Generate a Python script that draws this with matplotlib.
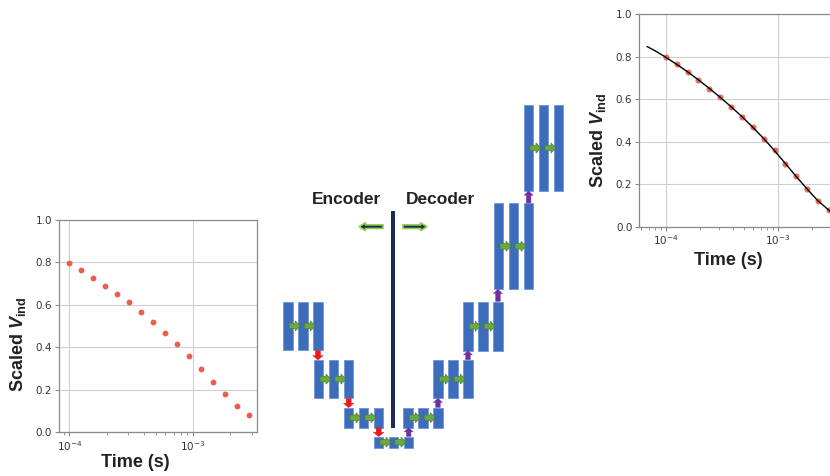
import matplotlib
matplotlib.use("Agg")
import matplotlib.pyplot as plt
from matplotlib.patches import Rectangle, Polygon
from matplotlib.ticker import LogLocator, NullFormatter

# ---- measured induced voltage (scaled) vs. time ----
times = [1.0e-4, 1.25e-4, 1.56e-4, 1.95e-4, 2.44e-4, 3.05e-4, 3.81e-4, 4.77e-4,
         5.96e-4, 7.45e-4, 9.31e-4, 1.16e-3, 1.45e-3, 1.82e-3, 2.27e-3, 2.84e-3]
vind = [0.798, 0.764, 0.728, 0.690, 0.650, 0.611, 0.565, 0.518,
        0.468, 0.414, 0.359, 0.296, 0.238, 0.178, 0.121, 0.079]

# ---- decoder reconstruction curve ----
fit_t = [6.8e-5, 8.2e-5, 1.0e-4, 1.25e-4, 1.56e-4, 1.95e-4, 2.44e-4, 3.05e-4,
         3.81e-4, 4.77e-4, 5.96e-4, 7.45e-4, 9.31e-4, 1.16e-3, 1.45e-3,
         1.82e-3, 2.27e-3, 2.84e-3, 3.2e-3]
fit_v = [0.848, 0.825, 0.797, 0.764, 0.729, 0.691, 0.651, 0.609,
         0.565, 0.518, 0.468, 0.415, 0.358, 0.298, 0.237,
         0.177, 0.122, 0.078, 0.055]

y_ticks = [0.0, 0.2, 0.4, 0.6, 0.8, 1.0]
y_ticklabels = ["0.0", "0.2", "0.4", "0.6", "0.8", "1.0"]

W, H = 830, 476
DOT = "#e8604c"
BLUE = "#3d6cbd"
BLUE_EDGE = "#6f95d6"
NAVY = "#1c2b52"
GREEN = "#6aa842"
GREEN_EDGE = "#4c7f2c"
LIME = "#92d050"
RED = "#f01818"
PURPLE = "#7030a0"

plt.rcParams["mathtext.fontset"] = "custom"
plt.rcParams["mathtext.bf"] = "Liberation Sans:bold"
plt.rcParams["mathtext.bfit"] = "Liberation Sans:bold:italic"
plt.rcParams["mathtext.rm"] = "Liberation Sans"

fig = plt.figure(figsize=(W / 100, H / 100), dpi=100)


def px_axes(x0, y0, x1, y1):
    return fig.add_axes([x0 / W, 1 - y1 / H, (x1 - x0) / W, (y1 - y0) / H])


def style_axes(ax, xlim, xlab_pos, ylab_pos):
    ax.set_xscale("log")
    ax.set_xlim(*xlim)
    ax.set_ylim(0, 1)
    ax.set_yticks(y_ticks)
    ax.set_yticklabels(y_ticklabels)
    ax.xaxis.set_major_locator(LogLocator(base=10))
    ax.xaxis.set_minor_locator(LogLocator(base=10, subs=range(2, 10)))
    ax.xaxis.set_minor_formatter(NullFormatter())
    ax.grid(True, which="major", color="#cfcfcf", lw=0.8)
    ax.set_axisbelow(True)
    for s in ax.spines.values():
        s.set_color("#8a8a8a")
        s.set_linewidth(0.9)
    ax.tick_params(which="major", labelsize=7.5, labelcolor="#333333",
                   color="#8a8a8a", length=3, width=0.8, pad=2)
    ax.tick_params(which="minor", color="#8a8a8a", length=2, width=0.6)
    lab = dict(fontsize=13, fontweight="bold", family="Liberation Sans",
               color="#222222")
    ax.set_xlabel("Time (s)", va="center", ha="center", **lab)
    ax.set_ylabel(r"Scaled $\mathbfit{V}_{\mathbf{ind}}$", va="center",
                  ha="center", **lab)
    ax.xaxis.set_label_coords(*xlab_pos)
    ax.yaxis.set_label_coords(*ylab_pos)


# left panel: input signal
axL = px_axes(59, 220, 257, 432)
axL.plot(times, vind, "o", color=DOT, ms=4.2, mec="none")
style_axes(axL, (8.24e-5, 3.32e-3), (0.386, -0.146), (-0.205, 0.415))

# right panel: input + reconstruction
axR = px_axes(639.3, 14.3, 839, 226.7)
axR.plot(times, vind, "o", color=DOT, ms=4.4, mec="none", alpha=0.9)
axR.plot(fit_t, fit_v, "-", color="black", lw=1.0)
style_axes(axR, (5.78e-5, 3.5e-3), (0.444, -0.157), (-0.207, 0.408))

# ---- encoder / decoder network diagram (pixel coordinates) ----
axD = fig.add_axes([0, 0, 1, 1], zorder=-1)
axD.set_xlim(0, W)
axD.set_ylim(H, 0)
axD.axis("off")

BAR_W, PITCH = 9.3, 15.0
# (x of first bar, top, height) for each stage, encoder then decoder
stages = [(283.3, 301.7, 48.5), (314.0, 360.0, 38.3), (344.0, 407.7, 20.0),
          (374.0, 436.7, 11.0), (403.3, 407.7, 20.0), (433.3, 360.0, 38.3),
          (463.3, 301.7, 49.0), (494.0, 203.3, 86.0), (524.0, 105.0, 86.0)]


def block_arrow(x, y, length, body, head, head_len, direction, fc, ec, lw=0.5):
    """Block arrow starting at (x, y) pointing in +x, -x, +y or -y."""
    L, b, h, hl = length, body / 2, head / 2, head_len
    pts = [(0, -b), (L - hl, -b), (L - hl, -h), (L, 0),
           (L - hl, h), (L - hl, b), (0, b)]
    if direction == "right":
        P = [(x + u, y + v) for u, v in pts]
    elif direction == "left":
        P = [(x - u, y + v) for u, v in pts]
    elif direction == "down":
        P = [(x + v, y + u) for u, v in pts]
    else:  # up
        P = [(x + v, y - u) for u, v in pts]
    axD.add_patch(Polygon(P, closed=True, fc=fc, ec=ec, lw=lw, zorder=4))


for k, (x0, top, h) in enumerate(stages):
    for i in range(3):
        axD.add_patch(Rectangle((x0 + i * PITCH, top), BAR_W, h, fc=BLUE,
                                ec=BLUE_EDGE, lw=0.6, zorder=2))
    ymid = top + h / 2
    for i in range(2):
        block_arrow(x0 + i * PITCH + 6.0, ymid, 11.0, 5.5, 10.0, 5.0, "right",
                    GREEN, GREEN_EDGE)

# down-sampling arrows (encoder)
for k in range(3):
    x0, top, h = stages[k]
    xc = x0 + 2 * PITCH + BAR_W / 2
    y0 = top + h
    gap = stages[k + 1][1] - y0
    block_arrow(xc, y0 + 0.3, gap - 0.3, 5.0, 10.5, 4.5, "down", RED, RED, 0.3)

# up-sampling arrows (decoder)
for k in range(3, 8):
    x0, top, h = stages[k]
    xc = x0 + 2 * PITCH + BAR_W / 2
    nxt = stages[k + 1]
    gap = top - (nxt[1] + nxt[2])
    block_arrow(xc, top - 0.3, gap - 0.3, 4.6, 9.0, 4.2, "up", PURPLE, PURPLE, 0.3)

# separator and labels
axD.add_patch(Rectangle((391.3, 211), 4.0, 217, fc=NAVY, ec="none", zorder=3))
txt = dict(fontsize=12.5, fontweight="bold", family="Liberation Sans",
           color="#222222", ha="center", va="center")
axD.text(346.7, 200, "Encoder", **txt)
axD.text(440.0, 200, "Decoder", **txt)
block_arrow(383, 226.7, 24, 3.6, 8.0, 6.5, "left", NAVY, LIME, 1.2)
block_arrow(403, 226.7, 24, 3.6, 8.0, 6.5, "right", NAVY, LIME, 1.2)

fig.savefig("out.png", dpi=100)
